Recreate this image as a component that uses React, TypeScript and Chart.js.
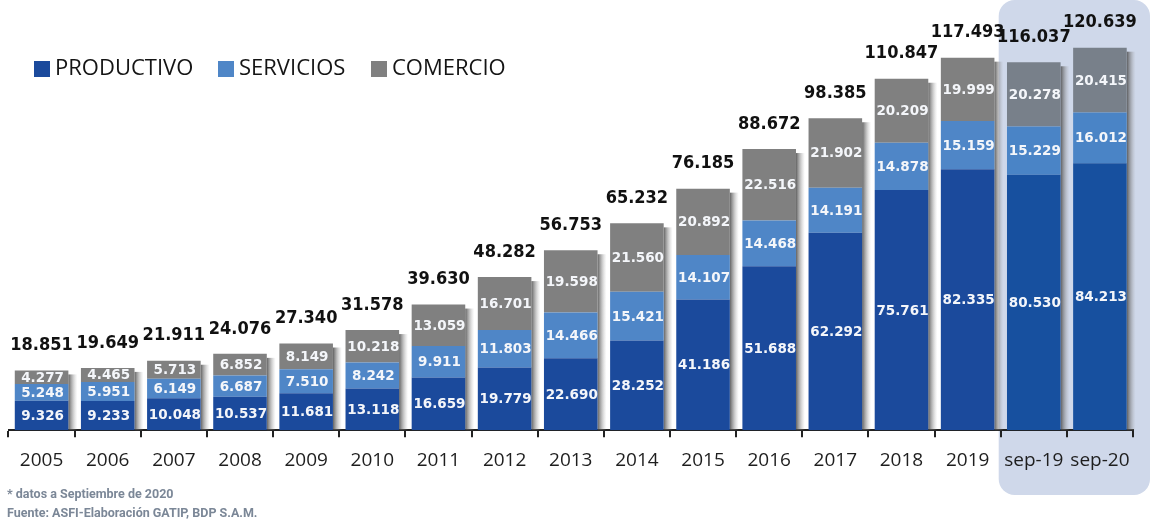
import React, { useEffect, useRef } from "react";
import { Chart, registerables } from "chart.js";

Chart.register(...registerables);

const categories = ["2005", "2006", "2007", "2008", "2009", "2010", "2011", "2012", "2013", "2014", "2015", "2016", "2017", "2018", "2019", "sep-19", "sep-20"];
const productivo = [9326, 9233, 10048, 10537, 11681, 13118, 16659, 19779, 22690, 28252, 41186, 51688, 62292, 75761, 82335, 80530, 84213];
const servicios = [5248, 5951, 6149, 6687, 7510, 8242, 9911, 11803, 14466, 15421, 14107, 14468, 14191, 14878, 15159, 15229, 16012];
const comercio = [4277, 4465, 5713, 6852, 8149, 10218, 13059, 16701, 19598, 21560, 20892, 22516, 21902, 20209, 19999, 20278, 20415];
const totales = [18851, 19649, 21911, 24076, 27340, 31578, 39630, 48282, 56753, 65232, 76185, 88672, 98385, 110847, 117493, 116037, 120639];
const seriesNames = ["PRODUCTIVO", "SERVICIOS", "COMERCIO"];
const footnotes = ["* datos a Septiembre de 2020", "Fuente: ASFI-Elaboración GATIP, BDP S.A.M."];
const highlightFrom = 15;

const fmt = (n: number) => String(n).replace(/\B(?=(\d{3})+(?!\d))/g, ".");

const baseColors = ["#1b4a9c", "#4f86c7", "#808080"];
const hiColors = ["#17509f", "#4a84c6", "#78808a"];

const colorsFor = (k: number) => categories.map((_, i) => (i >= highlightFrom ? hiColors[k] : baseColors[k]));

const decorPlugin = {
  id: "decor",
  beforeDraw(chart: any) {
    const { ctx } = chart;
    const xs = chart.scales.x;
    const cw = xs.getPixelForValue(1) - xs.getPixelForValue(0);
    const left = xs.getPixelForValue(highlightFrom) - cw / 2 - 2;
    ctx.save();
    ctx.fillStyle = "#cfd8ea";
    ctx.beginPath();
    ctx.roundRect(left, 0, 1150 - left, 495, 16);
    ctx.fill();
    ctx.restore();
  },
  beforeDatasetsDraw(chart: any) {
    const { ctx, chartArea } = chart;
    const meta = chart.getDatasetMeta(2);
    ctx.save();
    meta.data.forEach((el: any) => {
      const p = el.getProps(["x", "y", "width"], true);
      const x0 = p.x + p.width / 2;
      const g = ctx.createLinearGradient(x0, 0, x0 + 9, 0);
      g.addColorStop(0, "rgba(70,70,70,0.85)");
      g.addColorStop(1, "rgba(170,170,170,0)");
      ctx.fillStyle = g;
      ctx.fillRect(x0, p.y + 4, 9, chartArea.bottom - p.y - 4);
    });
    ctx.restore();
  },
  afterDatasetsDraw(chart: any) {
    const { ctx } = chart;
    ctx.save();
    ctx.textAlign = "center";
    ctx.textBaseline = "middle";
    ctx.fillStyle = "#f4f6fa";
    ctx.font = "bold 13.5px 'DejaVu Sans'";
    [0, 1, 2].forEach((d) => {
      const meta = chart.getDatasetMeta(d);
      const vals = chart.data.datasets[d].data;
      meta.data.forEach((el: any, i: number) => {
        const p = el.getProps(["x", "y", "base"], true);
        ctx.fillText(fmt(vals[i]), p.x + 1, (p.y + p.base) / 2 + 1);
      });
    });
    const top = chart.getDatasetMeta(2);
    ctx.fillStyle = "#111111";
    ctx.font = "bold 18px 'DejaVu Sans Condensed', 'DejaVu Sans'";
    top.data.forEach((el: any, i: number) => {
      const p = el.getProps(["x", "y"], true);
      ctx.fillText(fmt(totales[i]), p.x, p.y - 25);
    });
    ctx.restore();
  },
  afterDraw(chart: any) {
    const { ctx } = chart;
    ctx.save();
    const legendX = [34, 218, 371];
    ctx.textBaseline = "middle";
    ctx.textAlign = "left";
    ctx.font = "22px 'Open Sans'";
    seriesNames.forEach((name, k) => {
      ctx.fillStyle = baseColors[k];
      ctx.fillRect(legendX[k], 61, 16, 16);
      ctx.fillStyle = "#141414";
      ctx.fillText(name, legendX[k] + 21, 69);
    });
    ctx.fillStyle = "#7b8797";
    ctx.font = "bold 12.5px Roboto";
    ctx.fillText(footnotes[0], 7, 495);
    ctx.fillText(footnotes[1], 7, 514);
    ctx.restore();
  },
};

export default function App() {
  const ref = useRef<HTMLCanvasElement | null>(null);
  useEffect(() => {
    if (!ref.current) return;
    const mk = (k: number, data: number[]) => ({
      label: seriesNames[k],
      data,
      backgroundColor: colorsFor(k),
      borderWidth: 0,
      barPercentage: 0.81,
      categoryPercentage: 1,
    });
    const chart = new Chart(ref.current, {
      type: "bar",
      data: {
        labels: categories,
        datasets: [mk(0, productivo), mk(1, servicios), mk(2, comercio)],
      },
      options: {
        responsive: false,
        animation: false,
        layout: { padding: { left: 8.5, right: 18, top: 18, bottom: 39 } },
        plugins: { legend: { display: false }, tooltip: { enabled: false }, title: { display: false } },
        scales: {
          x: {
            stacked: true,
            z: 1,
            grid: { display: true, drawOnChartArea: false, drawTicks: true, tickLength: 7, color: "#222222", lineWidth: 2, offset: true },
            border: { display: true, color: "#222222", width: 2 },
            ticks: { color: "#1e1e1e", font: { family: "'Open Sans'", size: 19 }, padding: 12, maxRotation: 0, autoSkip: false },
          },
          y: { stacked: true, display: false, min: 0, max: 130000 },
        },
      },
      plugins: [decorPlugin],
    });
    return () => chart.destroy();
  }, []);
  return (
    <div style={{ position: "fixed", left: 0, top: 0, width: 1151, height: 523, background: "#ffffff" }}>
      <canvas ref={ref} width={1151} height={523} style={{ width: 1151, height: 523, display: "block" }} />
    </div>
  );
}
